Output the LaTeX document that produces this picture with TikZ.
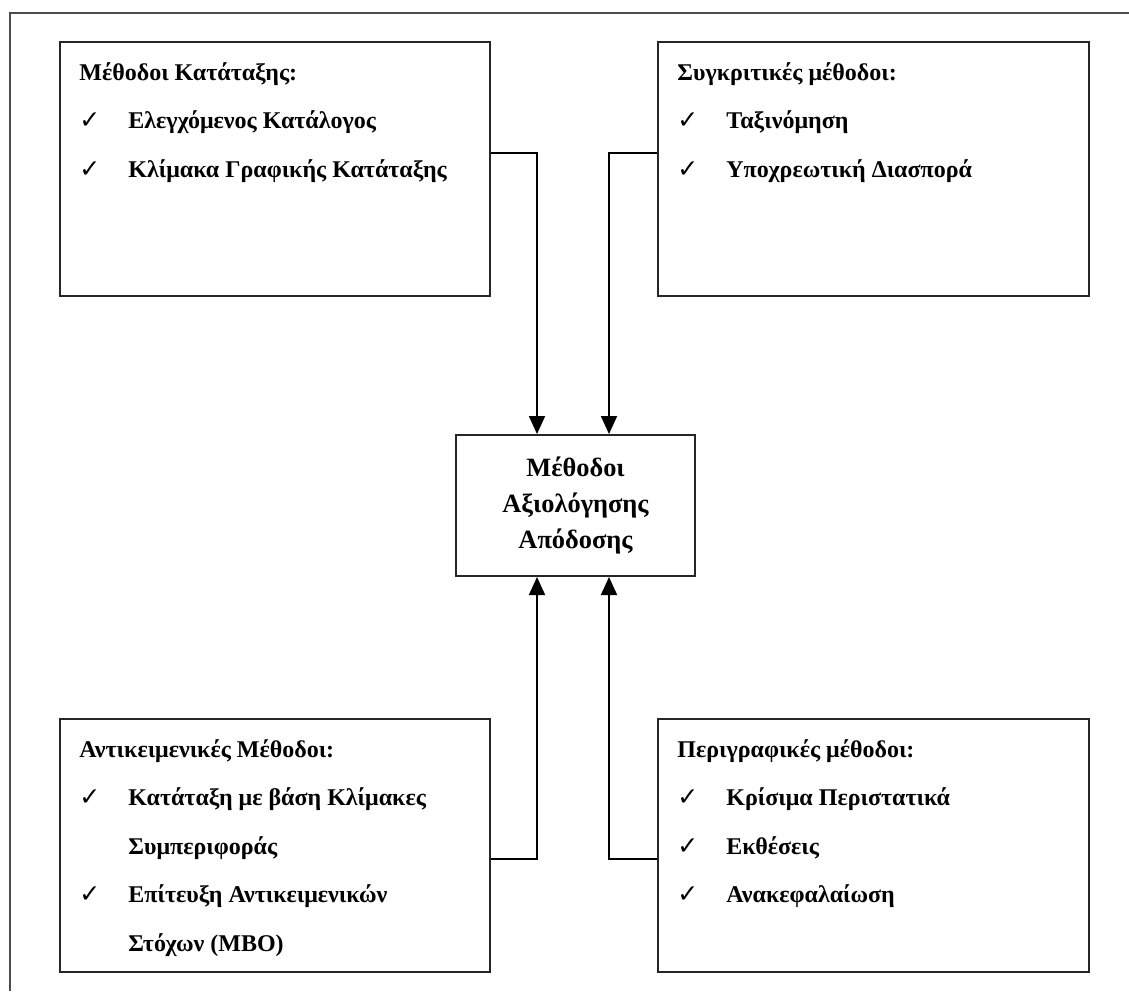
\documentclass[tikz,border=0pt]{standalone}
\usepackage{fontspec}
\setmainfont{Liberation Serif}
\newfontfamily\checkfont{DejaVu Sans}
\usetikzlibrary{arrows.meta}
\tikzset{
	box/.style={draw=black!85, line width=1pt, inner sep=0pt, anchor=north west},
	head/.style={anchor=base west, inner sep=0pt, font=\fontsize{12}{14}\selectfont\bfseries},
	tick/.style={anchor=base west, inner sep=0pt, font=\fontsize{12.5}{15}\selectfont\checkfont},
	link/.style={line width=0.9pt, -{Triangle[length=9pt, width=8pt]}},
}
\begin{document}
\begin{tikzpicture}[x=0.5pt, y=-0.5pt]
	% Khung ngoài
	\useasboundingbox (0,0) rectangle (1129,991);
	\draw[black!70, line width=1pt] (10,991) -- (10,13) -- (1129,13);
	% Các hộp
	\node[box, minimum width=215pt, minimum height=127pt] (rank) at (59,41) {};
	\node[box, minimum width=215.5pt, minimum height=127pt] (comp) at (657,41) {};
	\node[box, minimum width=215pt, minimum height=126.5pt] (obj) at (59,718) {};
	\node[box, minimum width=215.5pt, minimum height=126.5pt] (descr) at (657,718) {};
	\node[draw=black!85, line width=1pt, minimum width=119.5pt, minimum height=70.5pt, align=center,
		font=\fontsize{13.2}{18}\selectfont\bfseries] (centre) at (575.5,505.5) {Μέθοδοι\\Αξιολόγησης\\Απόδοσης};
	% Tiêu đề của các hộp
	\foreach \b/\t in {rank/Μέθοδοι Κατάταξης:, comp/Συγκριτικές μέθοδοι:, obj/Αντικειμενικές Μέθοδοι:, descr/Περιγραφικές μέθοδοι:} {
	\node[head] (\b-title) at ([shift={(20,39)}]\b.north west) {\t};
	}
	% Các dòng (\c = 1: có dấu ✓)
	\foreach \b/\k/\c/\t in {rank/1/1/Ελεγχόμενος Κατάλογος, rank/2/1/Κλίμακα Γραφικής Κατάταξης,
		comp/1/1/Ταξινόμηση, comp/2/1/Υποχρεωτική Διασπορά,
		obj/1/1/Κατάταξη με βάση Κλίμακες, obj/2/0/Συμπεριφοράς, obj/3/1/Επίτευξη Αντικειμενικών, obj/4/0/Στόχων (MBO),
		descr/1/1/Κρίσιμα Περιστατικά, descr/2/1/Εκθέσεις, descr/3/1/Ανακεφαλαίωση} {
	\node[head] (\b-\k) at ([shift={(69,39+48.5*\k)}]\b.north west) {\t};
	\ifnum\c=1
	\node[tick] (\b-tick\k) at ([shift={(20,39+48.5*\k)}]\b.north west) {✓};
	\fi
	}
	% Các mũi tên
	\draw[link] ([yshift=8pt]rank.east) -| ([xshift=-19.25pt]centre.north);
	\draw[link] ([yshift=8pt]comp.west) -| ([xshift=16.75pt]centre.north);
	\draw[link] ([yshift=-6.75pt]obj.east) -| ([xshift=-19.25pt]centre.south);
	\draw[link] ([yshift=-6.75pt]descr.west) -| ([xshift=16.75pt]centre.south);
\end{tikzpicture}
\end{document}
